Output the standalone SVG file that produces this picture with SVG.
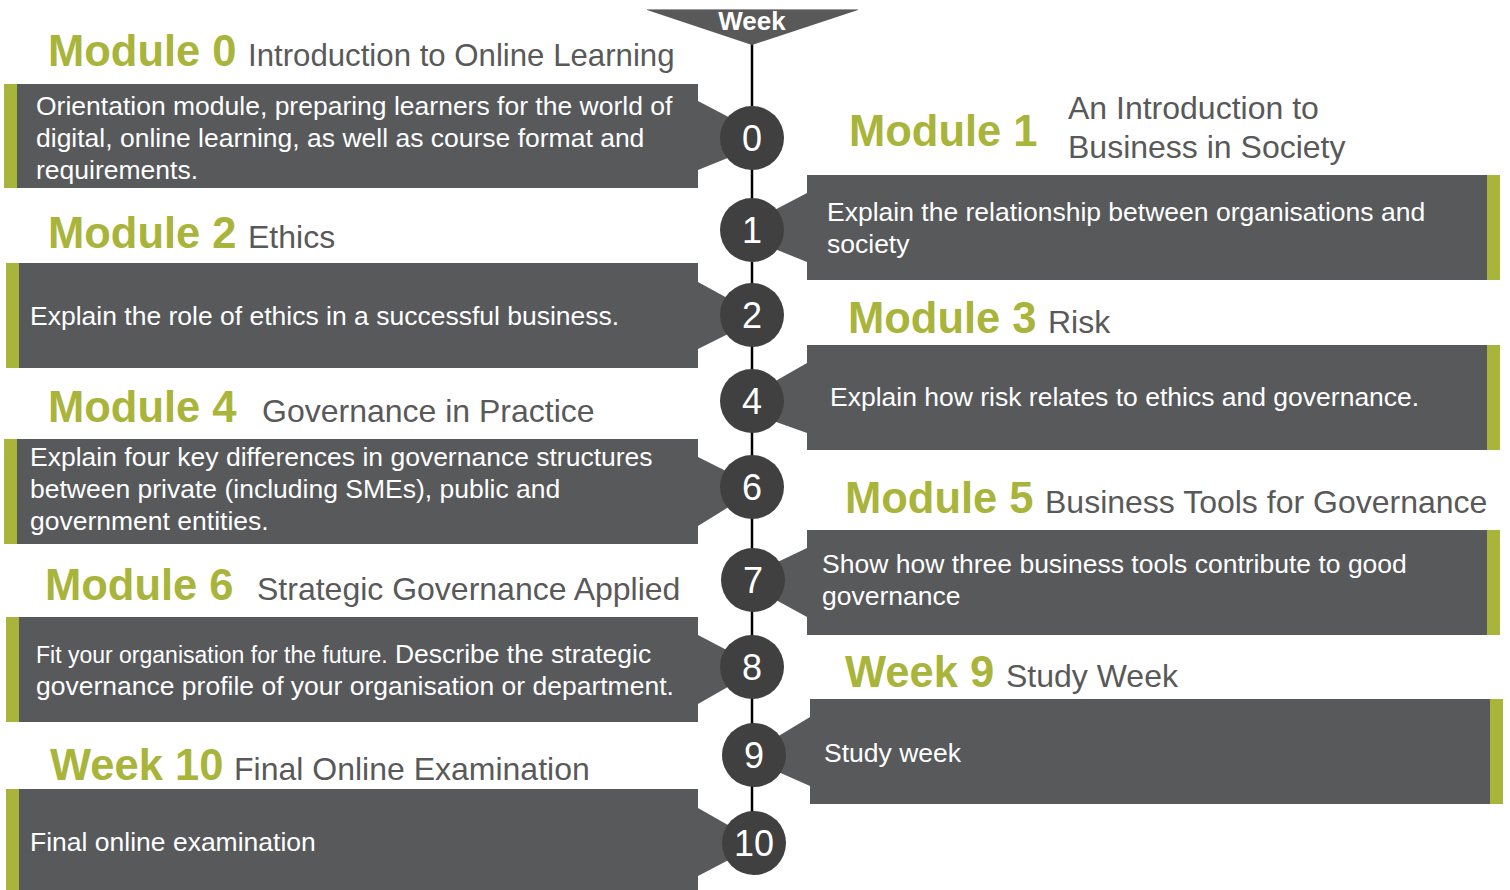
<svg xmlns="http://www.w3.org/2000/svg" width="1510" height="890" viewBox="0 0 1510 890">
<style>
.box{fill:#58595B}
.bar{fill:#A9B43A}
.circ{fill:#404040}
.num{font-family:"Liberation Sans",Arial,sans-serif;font-size:36px;fill:#fff;text-anchor:middle}
.body{font-family:"Liberation Sans",Arial,sans-serif;font-size:26.5px;fill:#fff}
.mod{font-family:"Liberation Sans",Arial,sans-serif;font-size:43.5px;font-weight:bold;fill:#A9B43A}
.sub{font-family:"Liberation Sans",Arial,sans-serif;font-size:32px;fill:#595959}
</style>
<rect width="1510" height="890" fill="#fff"/>
<g id="connectors">
<line x1="752" y1="40" x2="752" y2="815" stroke="#000" stroke-width="2.5"/>
</g>
<g id="week-header">
<polygon points="647,10 858,10 752,45" fill="#595959"/>
<line x1="647" y1="9.5" x2="858" y2="9.5" stroke="#9a9a9a" stroke-width="1"/>
<text x="752" y="30" font-family="Liberation Sans,Arial,sans-serif" font-size="26" font-weight="bold" fill="#fff" text-anchor="middle">Week</text>
</g>
<g id="module0">
<text x="48" y="66"><tspan class="mod">Module 0</tspan><tspan class="sub" x="248" style="font-size:31.2px">Introduction to Online Learning</tspan></text>
<rect class="bar" x="4" y="84" width="13" height="104"/>
<rect class="box" x="17" y="84" width="681" height="104"/>
<polygon class="box" points="698,101 740,123 740,153 698,170"/>
<circle class="circ" cx="752" cy="138" r="32"/>
<text class="num" x="752" y="151">0</text>
<text class="body"><tspan x="36" y="115">Orientation module, preparing learners for the world of</tspan><tspan x="36" y="147">digital, online learning, as well as course format and</tspan><tspan x="36" y="179">requirements.</tspan></text>
</g>
<g id="module1">
<text class="mod" x="849" y="146">Module 1</text>
<text class="sub"><tspan x="1068" y="119">An Introduction to</tspan><tspan x="1068" y="158">Business in Society</tspan></text>
<rect class="box" x="807" y="175" width="680" height="105"/>
<rect class="bar" x="1487" y="175" width="13" height="105"/>
<polygon class="box" points="807,193 765,215 765,245 807,262"/>
<circle class="circ" cx="752" cy="230" r="32"/>
<text class="num" x="752" y="243">1</text>
<text class="body"><tspan x="827" y="221">Explain the relationship between organisations and</tspan><tspan x="827" y="253">society</tspan></text>
</g>
<g id="module2">
<text x="48" y="248"><tspan class="mod">Module 2</tspan><tspan class="sub" x="248">Ethics</tspan></text>
<rect class="bar" x="6" y="263" width="13" height="105"/>
<rect class="box" x="19" y="263" width="679" height="105"/>
<polygon class="box" points="698,282 740,305 740,328 698,349"/>
<circle class="circ" cx="752" cy="315" r="32"/>
<text class="num" x="752" y="328">2</text>
<text class="body" x="30" y="325">Explain the role of ethics in a successful business.</text>
</g>
<g id="module3">
<text x="848" y="333"><tspan class="mod">Module 3</tspan><tspan class="sub" x="1048">Risk</tspan></text>
<rect class="box" x="807" y="345" width="680" height="105"/>
<rect class="bar" x="1487" y="345" width="13" height="105"/>
<polygon class="box" points="807,363 765,387 765,418 807,433"/>
<circle class="circ" cx="752" cy="401" r="32"/>
<text class="num" x="752" y="414">4</text>
<text class="body" x="830" y="406">Explain how risk relates to ethics and governance.</text>
</g>
<g id="module4">
<text x="48" y="422"><tspan class="mod">Module 4</tspan><tspan class="sub" x="262">Governance in Practice</tspan></text>
<rect class="bar" x="4" y="439" width="13" height="105"/>
<rect class="box" x="17" y="439" width="681" height="105"/>
<polygon class="box" points="698,457 740,478 740,500 698,526"/>
<circle class="circ" cx="752" cy="487" r="32"/>
<text class="num" x="752" y="500">6</text>
<text class="body"><tspan x="30" y="466">Explain four key differences in governance structures</tspan><tspan x="30" y="498">between private (including SMEs), public and</tspan><tspan x="30" y="530">government entities.</tspan></text>
</g>
<g id="module5">
<text x="845" y="513"><tspan class="mod">Module 5</tspan><tspan class="sub" x="1045">Business Tools for Governance</tspan></text>
<rect class="box" x="807" y="530" width="680" height="105"/>
<rect class="bar" x="1487" y="530" width="13" height="105"/>
<polygon class="box" points="807,548 765,568 765,594 807,617"/>
<circle class="circ" cx="753" cy="580" r="32"/>
<text class="num" x="753" y="593">7</text>
<text class="body"><tspan x="822" y="573">Show how three business tools contribute to good</tspan><tspan x="822" y="605">governance</tspan></text>
</g>
<g id="module6">
<text x="45" y="600"><tspan class="mod">Module 6</tspan><tspan class="sub" x="257">Strategic Governance Applied</tspan></text>
<rect class="bar" x="6" y="617" width="13" height="105"/>
<rect class="box" x="19" y="617" width="679" height="105"/>
<polygon class="box" points="698,635 740,657 740,680 698,704"/>
<circle class="circ" cx="752" cy="667" r="32"/>
<text class="num" x="752" y="680">8</text>
<text class="body"><tspan x="36" y="663"><tspan style="font-size:23px">Fit your organisation for the future.</tspan> Describe the strategic</tspan><tspan x="36" y="695">governance profile of your organisation or department.</tspan></text>
</g>
<g id="week9">
<text x="845" y="687"><tspan class="mod">Week 9</tspan><tspan class="sub" x="1006">Study Week</tspan></text>
<rect class="box" x="810" y="699" width="680" height="105"/>
<rect class="bar" x="1490" y="699" width="13" height="105"/>
<polygon class="box" points="810,717 767,743 767,767 810,786"/>
<circle class="circ" cx="754" cy="755" r="32"/>
<text class="num" x="754" y="768">9</text>
<text class="body" x="824" y="762">Study week</text>
</g>
<g id="week10">
<text x="50" y="780"><tspan class="mod">Week 10</tspan><tspan class="sub" x="234">Final Online Examination</tspan></text>
<rect class="bar" x="6" y="789" width="13" height="101"/>
<rect class="box" x="19" y="789" width="679" height="101"/>
<polygon class="box" points="698,808 742,833 742,853 698,876"/>
<circle class="circ" cx="754" cy="843" r="32"/>
<text class="num" x="754" y="856">10</text>
<text class="body" x="30" y="851">Final online examination</text>
</g>
</svg>
